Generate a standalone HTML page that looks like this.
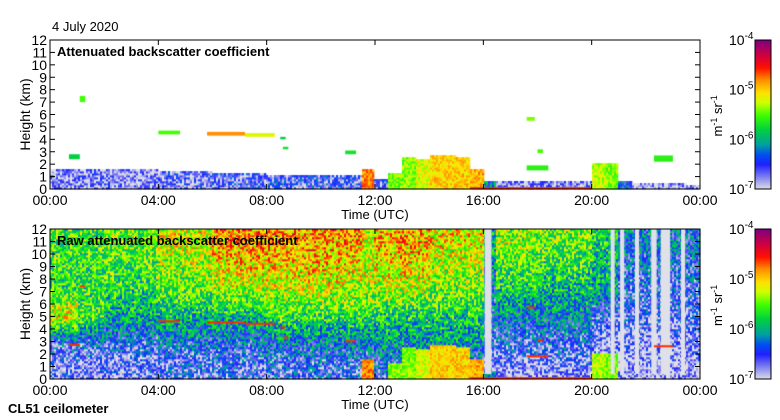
<!DOCTYPE html>
<html><head><meta charset="utf-8">
<style>
body{margin:0;background:#fff;width:780px;height:420px;overflow:hidden;font-family:"Liberation Sans",sans-serif}
#wrap{position:relative;width:780px;height:420px}
canvas,svg{position:absolute;left:0;top:0}
</style></head>
<body>
<div id="wrap">
<canvas id="cv" width="780" height="420"></canvas>
<svg id="sv" width="780" height="420"></svg>
</div>
<script>
// ---- data (log10 backscatter) ----
// top panel boundary-layer top (km) and value, per half hour
const blTop = [1.6,1.6,1.6,1.6,1.6,1.5,1.6,1.5, 1.3,1.3,1.3,1.3,1.2,1.2,1.2,1.2, 1.1,1.1,1.0,1.0,1.0,1.0,1.0,1.5, 0.8,1.2,2.5,2.3,2.6,2.6,2.5,1.5, 0.5,0.5,0.5,0.5,0.5,0.5,0.5,0.5, 2.0,2.0,0.6,0.4,0.4,0.4,0.4,0.3];
const blVal = [-6.8,-6.8,-6.8,-6.8,-6.8,-6.8,-6.8,-6.8, -6.7,-6.7,-6.7,-6.7,-6.65,-6.65,-6.65,-6.65, -6.6,-6.6,-6.6,-6.6,-6.6,-6.6,-6.6,-4.8, -6.6,-5.4,-5.4,-5.2,-5.0,-5.0,-5.0,-4.9, -6.2,-6.8,-6.8,-6.8,-6.7,-6.7,-6.8,-6.7, -5.3,-5.4,-6.4,-6.9,-6.9,-6.9,-6.9,-6.9];
// clouds [t0,t1,h0,h1,val]
const clouds = [[0.7,1.1,2.4,2.8,-5.8],[1.1,1.3,7.0,7.5,-5.5],[4.0,4.8,4.4,4.7,-5.5],[5.8,7.2,4.3,4.6,-4.8],[7.2,8.3,4.2,4.5,-5.2],[8.5,8.7,4.0,4.2,-5.8],[8.6,8.8,3.2,3.4,-5.7],[10.9,11.3,2.8,3.1,-5.7],[17.6,17.9,5.5,5.8,-5.4],[18.0,18.2,2.9,3.2,-5.5],[22.3,23.0,2.2,2.7,-5.6],[17.6,18.4,1.5,1.9,-5.6],[15.5,20.0,0.0,0.15,-4.6]];
// bottom panel profile levels (km) and values per half hour
const levels = [0.3,1.5,3,5,7.5,11];
const lv03 = [-6.75,-6.75,-6.75,-6.75,-6.75,-6.75,-6.75,-6.75, -6.6,-6.6,-6.6,-6.6,-6.6,-6.6,-6.6,-6.6, -6.55,-6.55,-6.55,-6.55,-6.55,-6.55,-6.55,-6.55, -6.5,-6.5,-6.5,-6.5,-6.5,-6.5,-6.5,-6.5, -6.95,-6.95,-6.9,-6.9,-6.9,-6.9,-6.9,-6.9, -6.95,-6.95,-6.95,-6.95,-6.95,-6.95,-6.95,-6.95];
const lv15 = [-6.7,-6.7,-6.7,-6.7,-6.7,-6.7,-6.7,-6.7, -6.6,-6.6,-6.6,-6.6,-6.6,-6.6,-6.6,-6.6, -6.5,-6.5,-6.5,-6.5,-6.5,-6.5,-6.5,-6.5, -6.4,-6.4,-6.4,-6.4,-6.4,-6.4,-6.4,-6.4, -6.8,-6.7,-6.7,-6.7,-6.7,-6.7,-6.7,-6.7, -6.85,-6.85,-6.85,-6.85,-6.85,-6.85,-6.85,-6.85];
const lv3 = [-6.45,-6.45,-6.45,-6.45,-6.45,-6.45,-6.45,-6.45, -6.35,-6.35,-6.35,-6.35,-6.35,-6.35,-6.35,-6.35, -6.2,-6.2,-6.2,-6.2,-6.2,-6.2,-6.2,-6.2, -6.1,-6.1,-6.1,-6.1,-6.1,-6.1,-6.1,-6.1, -6.6,-6.5,-6.5,-6.5,-6.5,-6.5,-6.5,-6.5, -6.8,-6.8,-6.8,-6.8,-6.8,-6.8,-6.8,-6.8];
const lv5 = [-5.15,-5.15,-5.6,-5.6,-6.0,-6.0,-6.0,-6.0, -5.9,-5.9,-5.9,-5.9,-5.9,-5.9,-5.9,-5.9, -5.7,-5.7,-5.7,-5.7,-5.7,-5.7,-5.7,-5.7, -5.8,-5.8,-5.8,-5.8,-5.8,-5.8,-5.8,-5.8, -6.4,-6.2,-6.2,-6.2,-6.2,-6.2,-6.2,-6.2, -6.6,-6.6,-6.6,-6.6,-6.6,-6.6,-6.6,-6.6];
const lv75 = [-5.7,-5.7,-5.7,-5.7,-5.7,-5.7,-5.7,-5.7, -5.5,-5.5,-5.5,-5.5,-5.25,-5.25,-5.25,-5.25, -5.2,-5.2,-5.2,-5.2,-5.2,-5.2,-5.3,-5.3, -5.25,-5.25,-5.25,-5.25,-5.45,-5.45,-5.45,-5.45, -6.3,-5.75,-5.75,-5.75,-5.85,-5.85,-5.85,-5.85, -6.0,-6.0,-6.5,-6.5,-6.5,-6.5,-6.5,-6.5];
const lv11 = [-5.6,-5.6,-5.6,-5.6,-5.5,-5.5,-5.5,-5.5, -5.2,-5.2,-5.2,-5.2,-4.85,-4.85,-4.85,-4.85, -4.85,-4.85,-4.85,-4.85,-4.9,-4.9,-4.9,-5.2, -4.95,-4.95,-4.95,-4.95,-5.1,-5.1,-5.1,-5.1, -5.9,-5.4,-5.4,-5.4,-5.5,-5.5,-5.5,-5.5, -5.8,-5.8,-6.3,-6.3,-6.3,-6.3,-6.3,-6.3];
const stripes = [[16.05,16.3],[20.7,20.85],[21.05,21.2],[21.6,21.75],[22.2,22.4],[22.55,22.9],[23.3,23.45]];
const xTicks = ["00:00","04:00","08:00","12:00","16:00","20:00","00:00"];
const yTicks = [0,1,2,3,4,5,6,7,8,9,10,11,12];

// ---- geometry ----
const X0=50,X1=700;
const panels=[{top:40,bot:189,title:"Attenuated backscatter coefficient"},{top:229,bot:379,title:"Raw attenuated backscatter coefficient"}];
const xs=t=>X0+t/24*(X1-X0);
const ys=(p,h)=>p.bot-h/12*(p.bot-p.top);

const stops=[[-7,[224,224,232]],[-6.75,[128,128,240]],[-6.5,[32,32,255]],[-6.3,[0,80,240]],[-6.1,[0,160,160]],[-5.8,[0,208,64]],[-5.5,[64,255,0]],[-5.25,[208,255,0]],[-5.05,[255,224,0]],[-4.8,[255,144,0]],[-4.55,[255,16,0]],[-4.3,[208,0,64]],[-4,[128,0,128]]];
function cmap(v){
  if(v<=stops[0][0])return stops[0][1];
  for(let i=1;i<stops.length;i++){if(v<=stops[i][0]){const a=stops[i-1],b=stops[i],f=(v-a[0])/(b[0]-a[0]);return a[1].map((c,k)=>Math.round(c+(b[1][k]-c)*f));}}
  return stops[stops.length-1][1];
}
const col=v=>{const c=cmap(v);return `rgb(${c[0]},${c[1]},${c[2]})`;};
// deterministic texture (speckle) only
function speck(a,b){let h=(a*374761393+b*668265263)>>>0;h=((h^(h>>>13))*1274126177)>>>0;return ((h^(h>>>16))&1023)/1023-0.5;}

const cv=document.getElementById('cv'),ctx=cv.getContext('2d');
function colIdx(t){return Math.min(47,Math.max(0,Math.floor(t/0.5)));}
function profile(i,h){
  const vals=[lv03[i],lv15[i],lv3[i],lv5[i],lv75[i],lv11[i]];
  if(h<=levels[0])return vals[0];
  for(let k=1;k<levels.length;k++){if(h<=levels[k]){const f=(h-levels[k-1])/(levels[k]-levels[k-1]);return vals[k-1]+(vals[k]-vals[k-1])*f;}}
  return vals[vals.length-1];
}
const NC=325,NR=75;
const dt=24/NC,dh=12/NR;
// top panel
let p=panels[0];
for(let c=0;c<NC;c++){const t=c*dt;const i=colIdx(t+dt/2);const x=xs(t),w=xs(t+dt)-x+0.3;
  const amp=blVal[i]>-6?0.45:0.9;
  for(let r=0;r<NR;r++){const h=r*dh;if(h>=blTop[i])break;
    let v=blVal[i]+amp*speck(c,r);
    ctx.fillStyle=col(v);const y=ys(p,h+dh);ctx.fillRect(x,y,w,ys(p,h)-y+0.3);}
}
for(const c of clouds){ctx.fillStyle=col(c[4]);const x=xs(c[0]),y=ys(p,c[3]);ctx.fillRect(x,y,xs(c[1])-x,Math.max(2,ys(p,c[2])-y));}
// bottom panel
p=panels[1];
for(let c=0;c<NC;c++){const t=c*dt;const i=colIdx(t+dt/2);const x=xs(t),w=xs(t+dt)-x+0.3;
  for(let r=0;r<NR;r++){const h=r*dh;let v=profile(i,h+dh/2)+1.1*speck(c+999,r);
    if(blVal[i]>-6.3&&h<blTop[i])v=blVal[i]+0.45*speck(c,r+77);
    ctx.fillStyle=col(v);const y=ys(p,h+dh);ctx.fillRect(x,y,w,ys(p,h)-y+0.3);}
}
for(const s of stripes){ctx.fillStyle=col(-7);const x=xs(s[0]);ctx.fillRect(x,ys(p,12),xs(s[1])-x,ys(p,0.4)-ys(p,12));}
for(const c of clouds){ctx.fillStyle=col(Math.max(c[4],-4.6));const x=xs(c[0]),y=ys(p,c[3]);ctx.fillRect(x,y,xs(c[1])-x,2);}
// colorbars
for(const q of panels){for(let y=q.top;y<q.bot;y++){const v=-4-3*(y-q.top)/(q.bot-q.top);ctx.fillStyle=col(v);ctx.fillRect(755,y,16,1);}}

// ---- svg axes ----
const NS="http://www.w3.org/2000/svg",sv=document.getElementById('sv');
function el(tag,attrs,parent){const e=document.createElementNS(NS,tag);for(const k in attrs)e.setAttribute(k,attrs[k]);(parent||sv).appendChild(e);return e;}
function txt(s,attrs,parent){const e=el('text',Object.assign({'font-family':'Liberation Sans, sans-serif','font-size':12,fill:'#000'},attrs),parent);e.textContent=s;return e;}
const d=txt("4 July 2020",{x:52,y:31,'font-size':13});

panels.forEach((q,pi)=>{
  const g=el('g',{});
  
  el('rect',{x:X0,y:q.top,width:X1-X0,height:q.bot-q.top,fill:'none',stroke:'#000','stroke-width':1},g);
  yTicks.forEach(v=>{const y=ys(q,v);
    el('line',{x1:X0,x2:X0+5,y1:y,y2:y,stroke:'#000'},g);el('line',{x1:X1-5,x2:X1,y1:y,y2:y,stroke:'#000'},g);
    const t=txt(String(v),{x:X0-3,y:y+5,'text-anchor':'end','font-size':14},g);
    });
  xTicks.forEach((s,k)=>{const x=xs(k*4);
    el('line',{x1:x,x2:x,y1:q.bot,y2:q.bot-5,stroke:'#000'},g);el('line',{x1:x,x2:x,y1:q.top,y2:q.top+5,stroke:'#000'},g);
    const t=txt(s,{x:x,y:q.bot+16,'text-anchor':'middle','font-size':14},g);
    });
  const yl=txt("Height (km)",{x:0,y:0,transform:`translate(30,${(q.top+q.bot)/2}) rotate(-90)`,'text-anchor':'middle','font-size':14},g);
  
  const xl=txt("Time (UTC)",{x:375,y:q.bot+30,'text-anchor':'middle','font-size':13},g);
  
  const ti=txt(q.title,{x:57,y:q.top+16,'font-weight':'bold','font-size':13},g);
  
  const cb=el('g',{},g);
  el('rect',{x:755,y:q.top,width:16,height:q.bot-q.top,fill:'none',stroke:'#000'},cb);
  [-4,-5,-6,-7].forEach((e,k)=>{const y=q.top+k*(q.bot-q.top)/3;
    const t=txt("10",{x:729,y:y+5,'font-size':14},cb);const s=el('tspan',{dy:-6,'font-size':10},t);s.textContent=String(e);
    });
  const u=txt("m",{x:0,y:0,transform:`translate(722,${(q.top+q.bot)/2+22}) rotate(-90)`,'font-size':13},cb);
  let s1=el('tspan',{dy:-5,'font-size':9},u);s1.textContent="-1";
  let s2=el('tspan',{dy:5},u);s2.textContent=" sr";
  let s3=el('tspan',{dy:-5,'font-size':9},u);s3.textContent="-1";
  
});
const cl=txt("CL51 ceilometer",{x:8,y:413,'font-weight':'bold','font-size':13});

</script>
</body></html>
